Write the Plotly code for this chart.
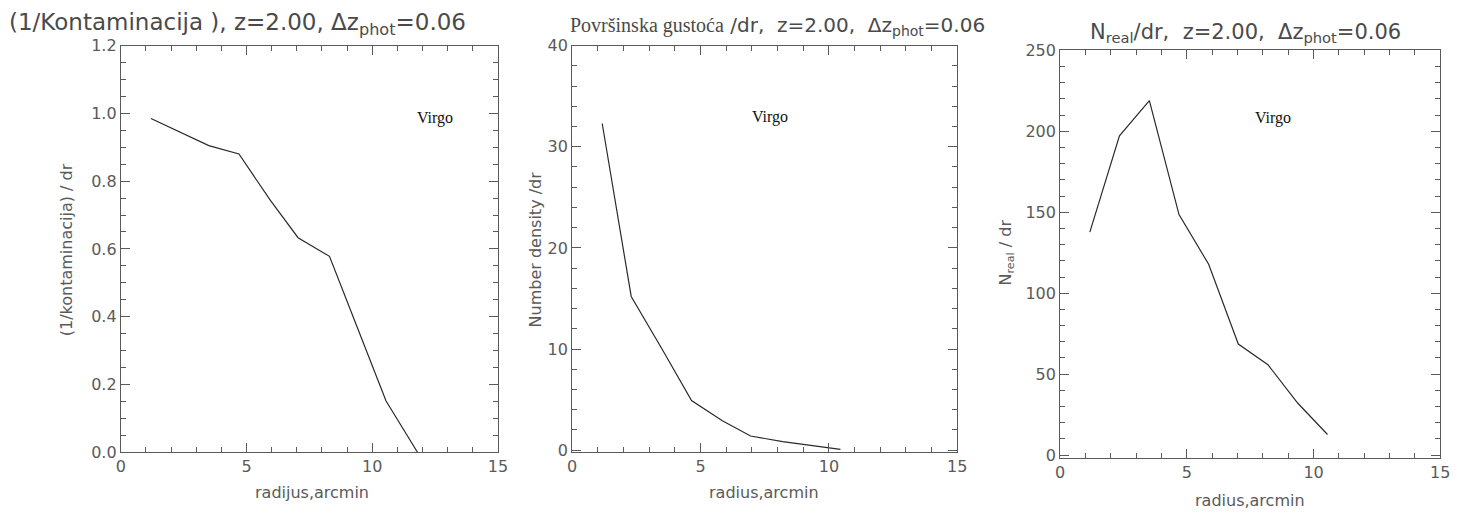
import plotly.graph_objects as go

W, H = 1476, 520

# Panel 1: (1/Kontaminacija)/dr
r1 = [1.2, 2.35, 3.5, 4.7, 5.95, 7.05, 8.3, 9.45, 10.55, 11.8]
y1 = [0.985, 0.945, 0.905, 0.88, 0.743, 0.633, 0.578, 0.36, 0.151, 0.0]

# Panel 2: Number density /dr
r2 = [1.17, 2.3, 3.5, 4.65, 5.85, 6.95, 8.2, 9.4, 10.45]
y2 = [32.3, 15.2, 10.0, 4.9, 2.9, 1.4, 0.85, 0.4, 0.07]

# Panel 3: N_real / dr
r3 = [1.17, 2.34, 3.52, 4.69, 5.86, 7.03, 8.2, 9.38, 10.55]
y3 = [137.7, 197.2, 219.0, 148.6, 117.9, 68.6, 55.8, 32.0, 12.7]

xticks = [0, 5, 10, 15]

FONT = "DejaVu Sans"
GRAY = "#5a5a5a"
LINE = "#2a2a2a"

def px(x):
    return x / W

def py(y):
    return 1 - y / H

fig = go.Figure()
fig.add_trace(go.Scatter(x=r1, y=y1, mode="lines", line=dict(color=LINE, width=1.2), xaxis="x", yaxis="y", showlegend=False))
fig.add_trace(go.Scatter(x=r2, y=y2, mode="lines", line=dict(color=LINE, width=1.2), xaxis="x2", yaxis="y2", showlegend=False))
fig.add_trace(go.Scatter(x=r3, y=y3, mode="lines", line=dict(color=LINE, width=1.2), xaxis="x3", yaxis="y3", showlegend=False))

def xax(dom, anchor):
    return dict(domain=[px(dom[0]), px(dom[1])], anchor=anchor, range=[0, 15],
                tickvals=xticks, ticks="inside", ticklen=9, tickcolor=GRAY,
                showline=True, linecolor=GRAY, linewidth=1, mirror="ticks",
                showgrid=False, zeroline=False,
                tickfont=dict(family=FONT, size=16, color=GRAY),
                minor=dict(dtick=1, ticks="inside", ticklen=5, tickcolor=GRAY))

def yax(dom, anchor, rng, dtick, mdtick, fmt=None):
    d = dict(domain=[py(dom[1]), py(dom[0])], anchor=anchor, range=rng,
             dtick=dtick, tick0=0, ticks="inside", ticklen=9, tickcolor=GRAY,
             showline=True, linecolor=GRAY, linewidth=1, mirror="ticks",
             showgrid=False, zeroline=False,
             tickfont=dict(family=FONT, size=16, color=GRAY),
             minor=dict(dtick=mdtick, tick0=0, ticks="inside", ticklen=5, tickcolor=GRAY))
    if fmt:
        d["tickformat"] = fmt
    return d

fig.update_layout(
    width=W, height=H,
    margin=dict(l=0, r=0, t=0, b=0),
    paper_bgcolor="white", plot_bgcolor="white",
    xaxis=xax((117, 498), "y"),
    yaxis=yax((38, 460), "x", [0, 1.2], 0.2, 0.05, ".1f"),
    xaxis2=xax((573, 962), "y2"),
    yaxis2=yax((38, 460), "x2", [-0.2, 40], 10, 2),
    xaxis3=xax((1066, 1450), "y3"),
    yaxis3=yax((43, 466), "x3", [-1.8, 250], 50, 10),
)

ann = []
def A(text, x, y, size=15, family=FONT, xanchor="center", angle=0, color=GRAY, xref="paper", yref="paper"):
    ann.append(dict(text=text, x=x, y=y, xref=xref, yref=yref, showarrow=False,
                    xanchor=xanchor, yanchor="middle", textangle=angle,
                    font=dict(family=family, size=size, color=color)))

# titles
A("(1/Kontaminacija ), z=2.00, Δz<sub>phot</sub>=0.06", px(2), py(16), size=23, xanchor="left", color="#4a4a4a")
A("<span style='font-family:Liberation Serif'>Površinska gustoća</span> /dr,  z=2.00,  Δz<sub>phot</sub>=0.06", px(780), py(18), size=20, color="#4a4a4a")
A("N<sub>real</sub>/dr,  z=2.00,  Δz<sub>phot</sub>=0.06", px(1253), py(25), size=21, color="#4a4a4a")

# axis titles
A("radijus,arcmin", px(310), py(502), size=16)
A("radius,arcmin", px(767), py(502), size=16)
A("radius,arcmin", px(1258), py(510), size=16)
A("(1/kontaminacija) / dr", px(62), py(250), size=16, angle=-90)
A("Number density /dr", px(536), py(250), size=16, angle=-90)
A("N<sub>real</sub> / dr", px(1012), py(253), size=16, angle=-90)

# Virgo labels
A("Virgo", 12.5, 0.985, size=16, family="Liberation Serif", color="#111111", xref="x", yref="y")
A("Virgo", 7.7, 32.9, size=16, family="Liberation Serif", color="#111111", xref="x2", yref="y2")
A("Virgo", 8.4, 208, size=16, family="Liberation Serif", color="#111111", xref="x3", yref="y3")

fig.update_layout(annotations=ann)
fig.write_html("out.html")
